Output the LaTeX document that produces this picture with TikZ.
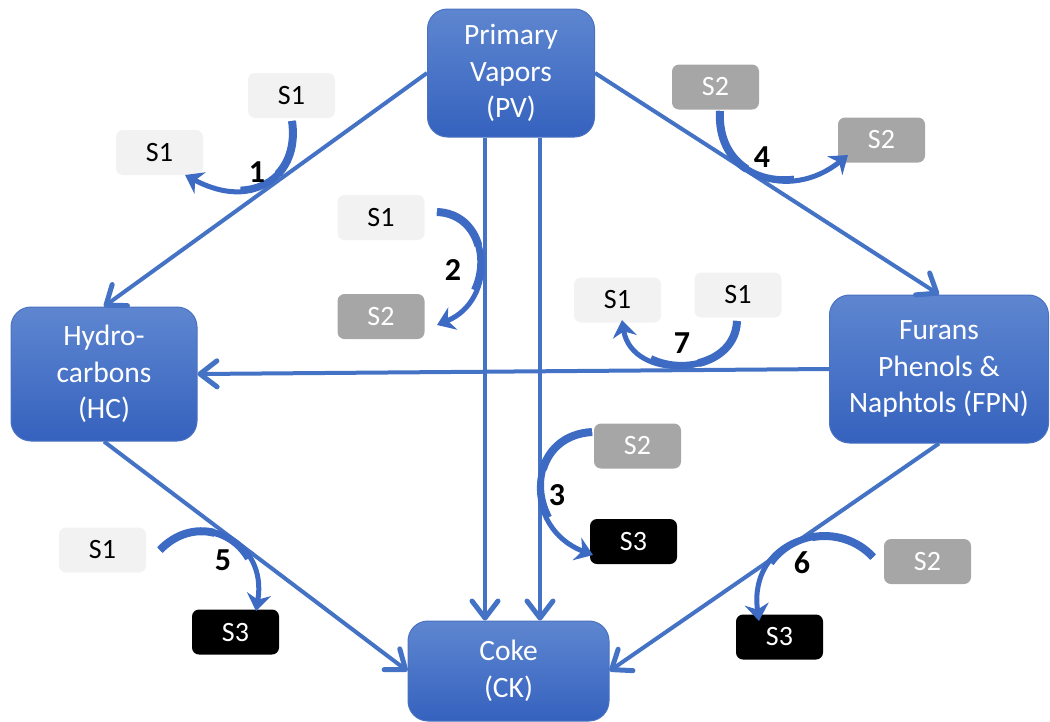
\documentclass[tikz,border=0pt]{standalone}
\usepackage{fontspec}
\setmainfont{Carlito}
\usetikzlibrary{arrows.meta,calc}
\definecolor{pblue}{HTML}{4472C4}
\definecolor{btop}{HTML}{5E86D0}
\definecolor{bbot}{HTML}{3562BE}
\definecolor{bedge}{HTML}{4A72C0}
\definecolor{gA}{HTML}{F2F2F2}
\definecolor{gB}{HTML}{A6A6A6}
\definecolor{carr}{HTML}{3D6AC2}
\tikzset{
  bigbox/.style={draw=bedge,line width=1pt,rounded corners=20pt,top color=btop,bottom color=bbot,
    text=white,align=center,font=\fontsize{29.5}{36.5}\selectfont,inner sep=0pt},
  sbox/.style={rounded corners=7pt,minimum width=87pt,minimum height=45pt,inner sep=0pt,
    font=\fontsize{28}{30}\selectfont},
  sone/.style={sbox,fill=gA,text=black},
  stwo/.style={sbox,fill=gB,text=white},
  sthree/.style={sbox,fill=black,text=white},
  vtip/.tip={Straight Barb[length=17pt,width=26pt,line width=5pt,round]},
  conn/.style={draw=pblue,line width=4pt,-vtip},
  carrow/.style={draw=carr,line width=5pt,-{Stealth[length=17pt,width=24pt]}},
  tpr/.style={draw=carr},
  num/.style={font=\fontsize{32}{32}\selectfont\bfseries,text=black,inner sep=0pt}
}
% first part (0..t) of a Bezier curve, drawn with a given width
\newcommand{\tseg}[6]{%
  \coordinate (ta) at ($(#1)!#5!(#2)$);
  \coordinate (tb) at ($(#2)!#5!(#3)$);
  \coordinate (tc) at ($(#3)!#5!(#4)$);
  \coordinate (tab) at ($(ta)!#5!(tb)$);
  \coordinate (tbc) at ($(tb)!#5!(tc)$);
  \coordinate (tm) at ($(tab)!#5!(tbc)$);
  \draw[tpr,line width=#6] (#1) .. controls (ta) and (tab) .. (tm);
}
\newcommand{\rarrow}[4]{%
  \draw[carrow] (#1) .. controls (#2) and (#3) .. (#4);
  \tseg{#1}{#2}{#3}{#4}{0.7}{6.5pt}
  \tseg{#1}{#2}{#3}{#4}{0.4}{8pt}
}
\begin{document}
\begin{tikzpicture}[x=1pt,y=-1pt]
\useasboundingbox (0,0) rectangle (1050,721);
% big boxes
\node[bigbox,minimum width=167pt,minimum height=128pt] (PV) at (511,73) {Primary\\Vapors\\(PV)};
\node[bigbox,minimum width=186pt,minimum height=134pt] (HC) at (104,374) {Hydro-\\carbons\\(HC)};
\node[bigbox,minimum width=219pt,minimum height=148pt] (FPN) at (939,369) {Furans\\Phenols \&\\Naphtols (FPN)};
\node[bigbox,minimum width=201pt,minimum height=100pt] (CK) at (508.5,671) {Coke\\(CK)};
% connectors
\draw[conn] (PV.west) -- (HC.north);
\draw[conn] (PV.east) -- (FPN.north);
\draw[conn] ([xshift=-26pt]PV.south) -- ([xshift=-26pt]PV.south |- CK.north);
\draw[conn] ([xshift=29pt]PV.south) -- ([xshift=29pt]PV.south |- CK.north);
\draw[conn] (HC.south) -- (CK.west);
\draw[conn] (FPN.south) -- (CK.east);
\draw[conn] (FPN.west) -- (HC.east);
% small boxes
\node[sone] (a1) at (291.5,95.5) {S1};
\node[sone] (b1) at (159.5,152.5) {S1};
\node[sone] (c1) at (381,217.5) {S1};
\node[stwo] (c2) at (381,316.5) {S2};
\node[stwo] (d2) at (715.5,87) {S2};
\node[stwo] (e2) at (881.5,140) {S2};
\node[sone] (f1) at (617.5,300) {S1};
\node[sone] (g1) at (738,295) {S1};
\node[stwo] (h2) at (637.5,446) {S2};
\node[sthree] (i3) at (633.5,541.5) {S3};
\node[sone] (j1) at (102.5,550) {S1};
\node[sthree] (k3) at (235.5,632) {S3};
\node[stwo] (l2) at (927.5,561.5) {S2};
\node[sthree] (m3) at (779.5,637) {S3};
% curved reaction arrows
\coordinate (r1s) at (292,121); \coordinate (r1a) at (300,175); \coordinate (r1b) at (255,212); \coordinate (r1e) at (185,175);
\rarrow{r1s}{r1a}{r1b}{r1e}
\coordinate (r2s) at (437,212); \coordinate (r2a) at (492,214); \coordinate (r2b) at (498,300); \coordinate (r2e) at (437,325);
\rarrow{r2s}{r2a}{r2b}{r2e}
\coordinate (r3s) at (592,432); \coordinate (r3a) at (525,436); \coordinate (r3b) at (522,528); \coordinate (r3e) at (593,555);
\rarrow{r3s}{r3a}{r3b}{r3e}
\coordinate (r4s) at (720,111); \coordinate (r4a) at (716,178); \coordinate (r4b) at (790,202); \coordinate (r4e) at (848,155);
\rarrow{r4s}{r4a}{r4b}{r4e}
\coordinate (r5s) at (160,550); \coordinate (r5a) at (200,508); \coordinate (r5b) at (268,540); \coordinate (r5e) at (256,611);
\rarrow{r5s}{r5a}{r5b}{r5e}
\coordinate (r6s) at (873,557); \coordinate (r6a) at (832,513); \coordinate (r6b) at (748,540); \coordinate (r6e) at (759,621);
\rarrow{r6s}{r6a}{r6b}{r6e}
\coordinate (r7s) at (737,321); \coordinate (r7a) at (735,378); \coordinate (r7b) at (632,382); \coordinate (r7e) at (622,320);
\rarrow{r7s}{r7a}{r7b}{r7e}
% numbers
\node[num] (n1) at (257,172) {1};
\node[num] (n2) at (453,270) {2};
\node[num] (n3) at (557,495) {3};
\node[num] (n4) at (762,157) {4};
\node[num] (n5) at (223,560) {5};
\node[num] (n6) at (802,563) {6};
\node[num] (n7) at (682,343) {7};
\end{tikzpicture}
\end{document}
